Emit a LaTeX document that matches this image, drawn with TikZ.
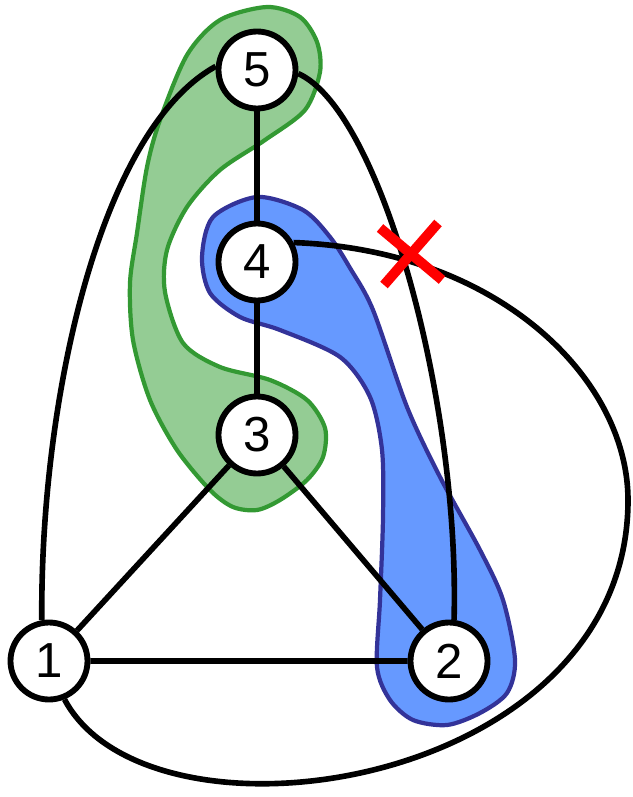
\documentclass[tikz,border=0pt]{standalone}
\usepackage{fontspec}
\setmainfont{Liberation Sans}
\usetikzlibrary{calc}
\definecolor{grpgreen}{RGB}{51,153,51}
\definecolor{grpgreenfill}{RGB}{148,204,148}
\definecolor{grpblue}{RGB}{51,51,153}
\definecolor{grpbluefill}{RGB}{102,153,255}
\begin{document}
\begin{tikzpicture}[x=0.03cm,y=-0.03cm,
    vtx/.style={circle,draw,line width=5pt,fill=white,minimum size=2.31cm,inner sep=0pt,
      font=\fontsize{42}{42}\selectfont},
    edge/.style={line width=4.8pt}]
    \useasboundingbox (0,0) rectangle (632,797);
    % the two groups
    \draw[grpgreen,fill=grpgreenfill,line width=3.6pt] plot[smooth cycle] coordinates {
      (267,7) (300,17) (317,42) (320,72) (305,110) (265,140) (220,170) (187,207)
      (167,250) (165,292) (183,343) (220,367) (270,380) (307,400) (325,428)
      (323,457) (307,480) (280,500) (257,510) (233,507) (210,490) (177,450)
      (150,400) (133,340) (130,283) (137,233) (147,167) (160,120) (187,55) (220,20)};
    \draw[grpblue,fill=grpbluefill,line width=3.6pt] plot[smooth cycle] coordinates {
      (257,197) (303,210) (330,237) (350,268) (373,310) (407,407) (440,477)
      (480,550) (503,600) (515,660) (507,693) (480,713) (447,725) (413,720)
      (390,700) (377,667) (380,600) (383,517) (382,450) (370,397) (340,357)
      (280,330) (240,317) (210,293) (202,257) (213,217)};
    % vertices
    \node[vtx] (n5) at (257,70) {5};
    \node[vtx] (n4) at (257,262) {4};
    \node[vtx] (n3) at (257,435) {3};
    \node[vtx] (n1) at (49,661) {1};
    \node[vtx] (n2) at (449,661) {2};
    % edges
    \draw[edge] (n5)--(n4)--(n3);
    \draw[edge] (n3)--(n1)--(n2)--(n3);
    \draw[edge] (n5.175) .. controls (100,130) and (40,400) .. (n1.100);
    \draw[edge] (n5.-5) .. controls (380,110) and (460,400) .. (n2.83);
    \coordinate (r) at (628,500);
    \draw[edge] (n4.28) .. controls (500,250) and (628,380) .. (r)
      .. controls (628,790) and (150,860) .. (n1.-68);
    % removed edge
    \coordinate (x) at (411,254);
    \draw[red,line width=8.5pt] ($(x)+(-31,-26)$)--($(x)+(31,26)$);
    \draw[red,line width=8.5pt] ($(x)+(27,-31)$)--($(x)+(-27,31)$);
\end{tikzpicture}
\end{document}
